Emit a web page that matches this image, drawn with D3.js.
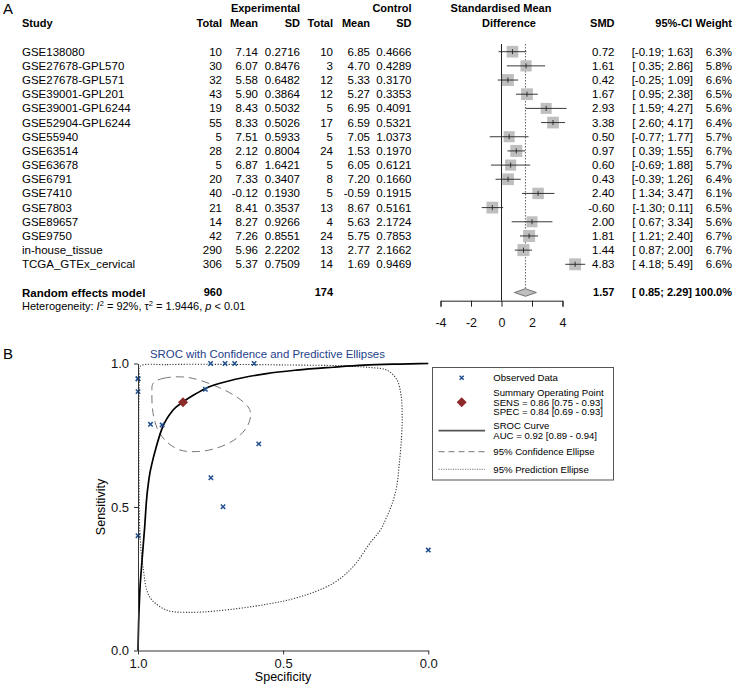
<!DOCTYPE html>
<html><head><meta charset="utf-8">
<script src="https://cdn.jsdelivr.net/npm/d3@7"></script>
<style>body{margin:0;background:#fff} svg{font-family:"Liberation Sans",Arial,sans-serif;display:block}</style>
</head><body><svg id="c" width="734" height="684"></svg>
<script>
// ---------- Panel A data ----------
const studies = ["GSE138080","GSE27678-GPL570","GSE27678-GPL571","GSE39001-GPL201","GSE39001-GPL6244","GSE52904-GPL6244","GSE55940","GSE63514","GSE63678","GSE6791","GSE7410","GSE7803","GSE89657","GSE9750","in-house_tissue","TCGA_GTEx_cervical"];
const expTotal = [10,30,32,43,19,55,5,28,5,20,40,21,14,42,290,306];
const expMean = [7.14,6.07,5.58,5.90,8.43,8.33,7.51,2.12,6.87,7.33,-0.12,8.41,8.27,7.26,5.96,5.37];
const expSD = [0.2716,0.8476,0.6482,0.3864,0.5032,0.5026,0.5933,0.8004,1.6421,0.3407,0.1930,0.3537,0.9266,0.8551,2.2202,0.7509];
const ctrlTotal = [10,3,12,12,5,17,5,24,5,8,5,13,4,24,13,14];
const ctrlMean = [6.85,4.70,5.33,5.27,6.95,6.59,7.05,1.53,6.05,7.20,-0.59,8.67,5.63,5.75,2.77,1.69];
const ctrlSD = [0.4666,0.4289,0.3170,0.3353,0.4091,0.5321,1.0373,0.1970,0.6121,0.1660,0.1915,0.5161,2.1724,0.7853,2.1662,0.9469];
const smd = [0.72,1.61,0.42,1.67,2.93,3.38,0.50,0.97,0.60,0.43,2.40,-0.60,2.00,1.81,1.44,4.83];
const ciLow = [-0.19,0.35,-0.25,0.95,1.59,2.60,-0.77,0.39,-0.69,-0.39,1.34,-1.30,0.67,1.21,0.87,4.18];
const ciHigh = [1.63,2.86,1.09,2.38,4.27,4.17,1.77,1.55,1.88,1.26,3.47,0.11,3.34,2.40,2.00,5.49];
const weight = [6.3,5.8,6.6,6.5,5.6,6.4,5.7,6.7,5.7,6.4,6.1,6.5,5.6,6.7,6.7,6.6];
const pooledEst = [1.57, 0.85, 2.29];   // SMD, lower, upper
const pooledTotals = [960, 174];
const pooledWeight = 100.0;
const forestTicks = [-4,-2,0,2,4];

// ---------- Panel B data ----------
const obsSpec = [1.0,1.0,1.0,0.957,0.917,0.768,0.75,0.70,0.667,0.60,0.584,0.749,0.707,1.0,0.0];
const obsSens = [0.947,0.947,0.902,0.788,0.786,0.91,1.0,1.0,1.0,1.0,0.72,0.602,0.501,0.40,0.35];
const summarySpec = 0.845, summarySens = 0.865;
const srocSpec = [1.0,0.998,0.994,0.988,0.977,0.971,0.962,0.95,0.937,0.917,0.879,0.845,0.80,0.764,0.684,0.557,0.454,0.328,0.224,0.1,0.0];
const srocSens = [0.0,0.09,0.2,0.29,0.43,0.52,0.6,0.66,0.71,0.774,0.838,0.866,0.895,0.915,0.94,0.965,0.977,0.987,0.994,0.998,1.0];
const confSpec = [0.948,0.914,0.833,0.741,0.661,0.621,0.612,0.621,0.661,0.730,0.799,0.856,0.902,0.931,0.948,0.952];
const confSens = [0.931,0.948,0.952,0.925,0.884,0.849,0.826,0.786,0.739,0.705,0.693,0.699,0.728,0.768,0.826,0.896];
const predSpec = [0.993,0.9,0.7,0.5,0.3,0.2,0.143,0.109,0.094,0.09,0.092,0.1,0.109,0.125,0.143,0.165,0.201,0.259,0.328,0.442,0.557,0.73,0.833,0.902,0.96,0.983,0.993,0.996,0.997,0.997,0.995];
const predSens = [0.99,0.996,0.997,0.995,0.992,0.986,0.977,0.945,0.89,0.82,0.745,0.65,0.571,0.51,0.466,0.42,0.374,0.292,0.234,0.187,0.161,0.138,0.133,0.141,0.187,0.292,0.4,0.55,0.7,0.85,0.95];
const sTicks = [0, 0.5, 1];

const svg = d3.select("#c");
const FS = 11.5, FB = 11;

// ================= Panel A =================
svg.append("text").attr("x",3).attr("y",13.5).attr("font-size",15).text("A");

const rowY = d3.scaleLinear().domain([0, studies.length-1]).range([51.7, 264.3]);
const xF = d3.scaleLinear().domain([-4,4]).range([440.5,562.5]);
const sq = d3.scaleSqrt().domain([0,6.7]).range([0,12]);
const yPool = 292.5, yHet = 306, yAxisF = 300.7;

// headers
const hdr = svg.append("g").attr("font-weight","bold").attr("font-size",FB);
hdr.append("text").attr("x",300).attr("y",8.3).attr("dy","0.35em").attr("text-anchor","end").text("Experimental");
hdr.append("text").attr("x",411.5).attr("y",8.3).attr("dy","0.35em").attr("text-anchor","end").text("Control");
hdr.append("text").attr("x",501).attr("y",8.3).attr("dy","0.35em").attr("text-anchor","middle").text("Standardised Mean");
hdr.append("text").attr("x",509).attr("y",23.3).attr("dy","0.35em").attr("text-anchor","middle").text("Difference");
hdr.append("text").attr("x",22).attr("y",23.3).attr("dy","0.35em").text("Study");
[[222,"Total"],[258,"Mean"],[300,"SD"],[333,"Total"],[370,"Mean"],[411.5,"SD"],[614.5,"SMD"],[692,"95%-CI"],[732,"Weight"]]
  .forEach(([x,t])=>hdr.append("text").attr("x",x).attr("y",23.3).attr("dy","0.35em").attr("text-anchor","end").text(t));

const fmtCI = (lo,hi)=>"[" + (lo>=0?" ":"") + lo.toFixed(2) + "; " + hi.toFixed(2) + "]";
const cols = [
  {x:222, f:i=>String(expTotal[i])},
  {x:258, f:i=>expMean[i].toFixed(2)},
  {x:300, f:i=>expSD[i].toFixed(4)},
  {x:333, f:i=>String(ctrlTotal[i])},
  {x:370, f:i=>ctrlMean[i].toFixed(2)},
  {x:411.5, f:i=>ctrlSD[i].toFixed(4)},
  {x:614.5, f:i=>smd[i].toFixed(2)},
  {x:693, f:i=>fmtCI(ciLow[i],ciHigh[i])},
  {x:732, f:i=>weight[i].toFixed(1)+"%"}
];
const rows = svg.append("g").attr("font-size",FS);
studies.forEach((s,i)=>{
  rows.append("text").attr("x",22).attr("y",rowY(i)).attr("dy","0.35em").text(s);
  cols.forEach(c=>rows.append("text").attr("x",c.x).attr("y",rowY(i)).attr("dy","0.35em").attr("text-anchor","end").text(c.f(i)));
});

// pooled row
const pr = svg.append("g").attr("font-size",FB).attr("font-weight","bold");
pr.append("text").attr("x",22).attr("y",yPool).attr("dy","0.35em").attr("font-size",11.5).text("Random effects model");
pr.append("text").attr("x",222).attr("y",yPool).attr("dy","0.35em").attr("text-anchor","end").text(pooledTotals[0]);
pr.append("text").attr("x",333).attr("y",yPool).attr("dy","0.35em").attr("text-anchor","end").text(pooledTotals[1]);
pr.append("text").attr("x",614.5).attr("y",yPool).attr("dy","0.35em").attr("text-anchor","end").text(pooledEst[0].toFixed(2));
pr.append("text").attr("x",692).attr("y",yPool).attr("dy","0.35em").attr("text-anchor","end").text(fmtCI(pooledEst[1],pooledEst[2]));
pr.append("text").attr("x",732).attr("y",yPool).attr("dy","0.35em").attr("text-anchor","end").text(pooledWeight.toFixed(1)+"%");

// heterogeneity
const het = svg.append("text").attr("x",22).attr("y",yHet).attr("dy","0.35em").attr("font-size",11);
het.append("tspan").text("Heterogeneity: ");
het.append("tspan").attr("font-style","italic").text("I");
het.append("tspan").attr("font-size",7.5).attr("dy","-4").text("2");
het.append("tspan").attr("dy","4").text(" = 92%, \u03C4");
het.append("tspan").attr("font-size",7.5).attr("dy","-4").text("2");
het.append("tspan").attr("dy","4").text(" = 1.9446, ");
het.append("tspan").attr("font-style","italic").text("p");
het.append("tspan").text(" < 0.01");

// reference lines
svg.append("line").attr("x1",xF(0)).attr("x2",xF(0)).attr("y1",44).attr("y2",yAxisF).attr("stroke","#222").attr("stroke-width",1);
svg.append("line").attr("x1",xF(pooledEst[0])).attr("x2",xF(pooledEst[0])).attr("y1",44).attr("y2",yPool-4)
  .attr("stroke","#555").attr("stroke-width",0.9).attr("stroke-dasharray","1.5,1.5");

// study marks
const mk = svg.append("g");
studies.forEach((s,i)=>{
  const y = rowY(i), w = sq(weight[i]);
  mk.append("rect").attr("x",xF(smd[i])-w/2).attr("y",y-w/2).attr("width",w).attr("height",w).attr("fill","#bfbfbf");
  mk.append("line").attr("x1",xF(ciLow[i])).attr("x2",xF(ciHigh[i])).attr("y1",y).attr("y2",y).attr("stroke","#222").attr("stroke-width",0.9);
  mk.append("line").attr("x1",xF(smd[i])).attr("x2",xF(smd[i])).attr("y1",y-2.5).attr("y2",y+2.5).attr("stroke","#222").attr("stroke-width",0.9);
});
// diamond
svg.append("path").attr("d",`M${xF(pooledEst[1])},${yPool}L${xF(pooledEst[0])},${yPool-3.8}L${xF(pooledEst[2])},${yPool}L${xF(pooledEst[0])},${yPool+3.8}Z`)
  .attr("fill","#bfbfbf").attr("stroke","#555").attr("stroke-width",0.8);

// axis
const axF = svg.append("g").attr("transform",`translate(0,${yAxisF})`)
  .call(d3.axisBottom(xF).tickValues(forestTicks).tickSize(6).tickSizeOuter(6).tickPadding(11).tickFormat(d=>String(d)));
axF.selectAll("text").attr("font-size",12.5).attr("font-family","Liberation Sans, Arial, sans-serif").attr("fill","#111");
axF.selectAll("path,line").attr("stroke","#222");

// ================= Panel B =================
svg.append("text").attr("x",3).attr("y",358.5).attr("font-size",15).text("B");
svg.append("text").attr("x",150).attr("y",357.5).attr("font-size",11.4).attr("fill","#24418a")
  .text("SROC with Confidence and Predictive Ellipses");

const xS = d3.scaleLinear().domain([1,0]).range([138,428.3]);
const yS = d3.scaleLinear().domain([0,1]).range([650.5,363.5]);

const line = d3.line().x(d=>xS(d[0])).y(d=>yS(d[1]));
const predPts = predSpec.map((s,i)=>[s,predSens[i]]);
const confPts = confSpec.map((s,i)=>[s,confSens[i]]);
const srocPts = srocSpec.map((s,i)=>[s,srocSens[i]]);

svg.append("path").attr("d",line.curve(d3.curveCatmullRomClosed)(predPts)).attr("fill","none")
  .attr("stroke","#333").attr("stroke-width",1.1).attr("stroke-dasharray","1.2,1.6");
svg.append("path").attr("d",line.curve(d3.curveCatmullRomClosed)(confPts)).attr("fill","none")
  .attr("stroke","#777").attr("stroke-width",1).attr("stroke-dasharray","8,5");
svg.append("path").attr("d",line.curve(d3.curveMonotoneX)(srocPts)).attr("fill","none")
  .attr("stroke","#000").attr("stroke-width",1.7);

// observed points
const obs = svg.append("g").attr("stroke","#1f4f8f").attr("stroke-width",1.5);
obsSpec.forEach((s,i)=>{
  const cx = xS(s), cy = yS(obsSens[i]), r = 2.2;
  obs.append("path").attr("d",`M${cx-r},${cy-r}L${cx+r},${cy+r}M${cx-r},${cy+r}L${cx+r},${cy-r}`);
});
// summary point
{
  const cx = xS(summarySpec), cy = yS(summarySens), r = 5;
  svg.append("path").attr("d",`M${cx},${cy-r}L${cx+r},${cy}L${cx},${cy+r}L${cx-r},${cy}Z`).attr("fill","#8e2a2a");
}

// axes
const axY = svg.append("g").attr("transform",`translate(${xS(1)},0)`)
  .call(d3.axisLeft(yS).tickValues(sTicks).tickSize(4).tickSizeOuter(0).tickPadding(5).tickFormat(d3.format(".1f")));
const axX = svg.append("g").attr("transform",`translate(0,${yS(0)})`)
  .call(d3.axisBottom(xS).tickValues(sTicks).tickSize(4).tickSizeOuter(0).tickPadding(4).tickFormat(d3.format(".1f")));
[axY,axX].forEach(a=>{
  a.selectAll("text").attr("font-size",13).attr("font-family","Liberation Sans, Arial, sans-serif").attr("fill","#111");
  a.selectAll("path,line").attr("stroke","#333");
});
svg.append("text").attr("x",283).attr("y",677).attr("dy","0.35em").attr("text-anchor","middle").attr("font-size",12.5).text("Specificity");
svg.append("text").attr("transform","translate(101,507) rotate(-90)").attr("dy","0.35em").attr("text-anchor","middle").attr("font-size",12.5).text("Sensitivity");

// legend
const lg = svg.append("g").attr("font-size",9.6);
lg.append("rect").attr("x",432.5).attr("y",367.5).attr("width",181).attr("height",112.5).attr("fill","#fff").attr("stroke","#555").attr("stroke-width",1);
{
  const cx=461.7, cy=377.7, r=2;
  lg.append("path").attr("d",`M${cx-r},${cy-r}L${cx+r},${cy+r}M${cx-r},${cy+r}L${cx+r},${cy-r}`).attr("stroke","#1f4f8f").attr("stroke-width",1.5);
  const dy=402.3, dr=5;
  lg.append("path").attr("d",`M${cx},${dy-dr}L${cx+dr},${dy}L${cx},${dy+dr}L${cx-dr},${dy}Z`).attr("fill","#8e2a2a");
}
lg.append("line").attr("x1",438.5).attr("x2",485).attr("y1",430.7).attr("y2",430.7).attr("stroke","#555").attr("stroke-width",1.8);
lg.append("line").attr("x1",438.5).attr("x2",485).attr("y1",451.7).attr("y2",451.7).attr("stroke","#777").attr("stroke-width",1).attr("stroke-dasharray","6,4");
lg.append("line").attr("x1",438.5).attr("x2",485).attr("y1",469.3).attr("y2",469.3).attr("stroke","#777").attr("stroke-width",1).attr("stroke-dasharray","1.2,1.2");
[["Observed Data",377.7],["Summary Operating Point",392.8],["SENS = 0.86 [0.75 - 0.93]",402.3],["SPEC = 0.84 [0.69 - 0.93]",411.8],
 ["SROC Curve",426],["AUC = 0.92 [0.89 - 0.94]",435.8],["95% Confidence Ellipse",451.7],["95% Prediction Ellipse",469.3]]
 .forEach(([t,y])=>lg.append("text").attr("x",493.3).attr("y",y).attr("dy","0.35em").text(t));
</script>
</body></html>
